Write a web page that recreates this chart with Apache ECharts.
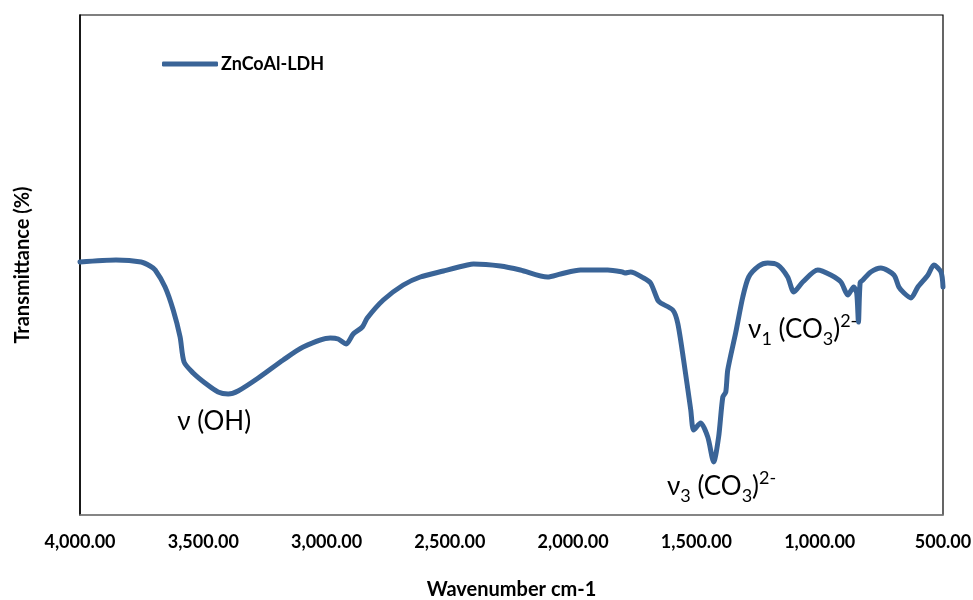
<!DOCTYPE html>
<html>
<head>
<meta charset="utf-8">
<script src="https://cdn.jsdelivr.net/npm/echarts@6/dist/echarts.min.js"></script>
<style>html,body{margin:0;padding:0;background:#fff;}#c{width:973px;height:600px;}</style>
</head>
<body>
<div id="c"></div>
<script>
var wavenumbers = [4000,3854,3752,3716,3695,3655,3622,3594,3578,3541,3493,3440,3399,3359,3277,3176,3095,2985,2953,2920,2892,2855,2835,2770,2689,2620,2526,2429,2404,2295,2214,2104,2051,1970,1860,1800,1790,1767,1714,1686,1657,1645,1596,1576,1552,1523,1511,1483,1454,1430,1410,1393,1381,1373,1341,1312,1288,1247,1211,1170,1130,1105,1069,1008,955,914,886,862,850,843,836,825,793,752,699,679,658,630,602,561,537,508,500];
var transmittance = [50.6,51.0,50.6,49.8,49.0,45.6,41.0,35.6,30.6,28.4,26.4,24.6,24.2,24.8,27.4,31.0,33.6,35.4,35.2,34.2,36.2,37.6,39.4,43.0,46.0,47.6,48.8,50.0,50.2,49.8,49.0,47.6,48.2,49.0,49.0,48.6,48.4,48.6,47.4,46.4,43.0,42.4,41.0,38.4,31.0,21.0,17.0,18.4,15.6,10.6,15.6,23.6,24.6,29.0,36.4,43.6,47.6,49.8,50.4,50.0,47.6,44.6,46.6,49.0,48.0,46.6,44.0,45.6,44.4,38.6,46.5,47.0,48.6,49.4,48.0,45.6,44.4,43.4,45.6,48.0,50.0,48.6,45.6];
var seriesName = 'ZnCoAl-LDH';
var xTicks = [4000,3500,3000,2500,2000,1500,1000,500];
var annotations = [
  {x: 3456, y: 18.6, text: '{a|ν (OH)}'},
  {x: 1398, y: 5.6, text: '{a|ν}{sub|3}{a| (CO}{sub|3}{a|)}{sup|2-}'},
  {x: 1069, y: 37.0, text: '{a|ν}{sub|1}{a| (CO}{sub|3}{a|)}{sup|2-}'}
];

var data = wavenumbers.map(function(w,i){return [w, transmittance[i]];});
var FONT = 'Lato';
var richStyles = {
  a: {fontFamily: FONT, fontSize: 26, color: '#000', lineHeight: 36, verticalAlign: 'middle'},
  sub: {fontFamily: FONT, fontSize: 18, color: '#000', lineHeight: 36, verticalAlign: 'bottom'},
  sup: {fontFamily: FONT, fontSize: 18, color: '#000', lineHeight: 36, verticalAlign: 'top'}
};

var chart = echarts.init(document.getElementById('c'), null, {renderer: 'canvas'});
chart.setOption({
  animation: false,
  backgroundColor: '#fff',
  grid: {left: 80, right: 30, top: 15, bottom: 85, show: true, borderColor: '#000', borderWidth: 1.2, outerBoundsMode: 'none', containLabel: false},
  legend: {
    left: 157, top: 50,
    itemWidth: 56, itemHeight: 5, itemGap: 4,
    data: [{name: seriesName, icon: 'roundRect'}],
    textStyle: {fontFamily: FONT, fontWeight: 'bold', fontSize: 18, color: '#000', padding: [0,0,0,-2]}
  },
  xAxis: {
    type: 'value', inverse: true, min: 500, max: 4000, interval: 500,
    name: 'Wavenumber cm-1', nameLocation: 'middle', nameGap: 65,
    nameTextStyle: {fontFamily: FONT, fontWeight: 'bold', fontSize: 20, color: '#000'},
    axisLine: {show: true, lineStyle: {color: '#888', width: 1.5}},
    axisTick: {show: false},
    splitLine: {show: false},
    axisLabel: {
      margin: 18, fontFamily: FONT, fontWeight: 'bold', fontSize: 18, color: '#000',
      formatter: function(v){ return v.toLocaleString('en-US',{minimumFractionDigits:2, maximumFractionDigits:2}); }
    }
  },
  yAxis: {
    type: 'value', min: 0, max: 100,
    name: 'Transmittance (%)', nameLocation: 'middle', nameGap: 47,
    nameTextStyle: {fontFamily: FONT, fontWeight: 'bold', fontSize: 20, color: '#000'},
    axisLine: {show: true, lineStyle: {color: '#000', width: 1.5}},
    axisTick: {show: false},
    axisLabel: {show: false},
    splitLine: {show: false}
  },
  series: [{
    name: seriesName,
    type: 'line',
    data: data,
    showSymbol: false,
    smooth: 0.25,
    lineStyle: {color: '#3a6497', width: 5, cap: 'round', join: 'round'},
    itemStyle: {color: '#3a6497'},
    markPoint: {
      symbol: 'circle', symbolSize: 0, silent: true,
      label: {show: true, position: 'inside', formatter: function(p){return p.data.text;}, rich: richStyles},
      data: annotations.map(function(a){return {coord: [a.x, a.y], text: a.text};})
    }
  }]
});
</script>
</body>
</html>
